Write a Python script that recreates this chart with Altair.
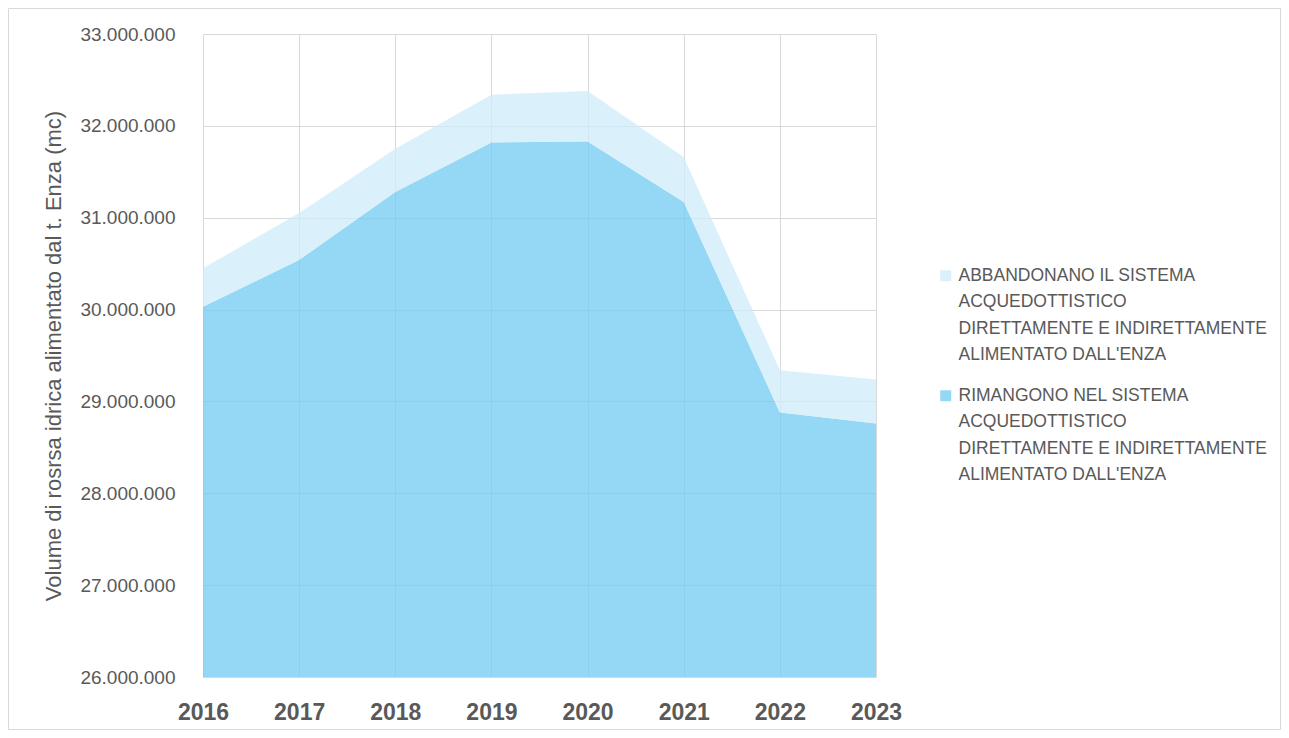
import altair as alt
import pandas as pd

years = ["2016", "2017", "2018", "2019", "2020", "2021", "2022", "2023"]
rimangono = [30030000, 30540000, 31280000, 31820000, 31830000, 31170000, 28880000, 28760000]
abbandonano = [420000, 510000, 470000, 520000, 550000, 490000, 460000, 480000]

lab_abb = "ABBANDONANO IL SISTEMA|ACQUEDOTTISTICO|DIRETTAMENTE E INDIRETTAMENTE|ALIMENTATO DALL'ENZA"
lab_rim = "RIMANGONO NEL SISTEMA|ACQUEDOTTISTICO|DIRETTAMENTE E INDIRETTAMENTE|ALIMENTATO DALL'ENZA"
series = [lab_abb, lab_rim]
colors = ["#CEECFA", "#70CBF2"]

rows = []
for i, y in enumerate(years):
    rows.append({"year": y, "serie": lab_rim, "value": rimangono[i], "ord": 0})
    rows.append({"year": y, "serie": lab_abb, "value": abbandonano[i], "ord": 1})
df = pd.DataFrame(rows)

W, H = 673, 643
PL, PT, PR, PB = 195, 26, 405, 53

area = alt.Chart(df).mark_area(clip=True, opacity=0.75).encode(
    x=alt.X("year:O", scale=alt.Scale(type="point", padding=0),
            axis=alt.Axis(title=None, labelAngle=0, grid=True, domain=False, ticks=False,
                          labelFont="Liberation Sans", labelFontSize=23, labelFontWeight="bold",
                          labelColor="#595959", labelPadding=24, gridColor="#d9d9d9")),
    y=alt.Y("value:Q", stack="zero",
            scale=alt.Scale(domain=[26000000, 33000000], nice=False, zero=False),
            axis=alt.Axis(title="Volume di rosrsa idrica alimentato dal t. Enza  (mc)",
                          values=[26000000, 27000000, 28000000, 29000000, 30000000, 31000000, 32000000, 33000000],
                          labelExpr="replace(format(datum.value, ',.0f'), regexp(',', 'g'), '.')",
                          domain=False, ticks=False, labelPadding=28,
                          labelFont="Liberation Sans", labelFontSize=19, labelColor="#595959",
                          titleFont="Liberation Sans", titleFontSize=22, titleFontWeight="normal",
                          titleColor="#595959", titlePadding=14, gridColor="#d9d9d9")),
    color=alt.Color("serie:N", scale=alt.Scale(domain=series, range=colors),
                    legend=alt.Legend(title=None, orient="none", legendX=734, legendY=233,
                                      symbolType="square", symbolSize=121, symbolOpacity=0.75,
                                      labelFont="Liberation Sans", labelFontSize=17.5,
                                      labelColor="#595959", labelLimit=500, rowPadding=22,
                                      labelBaseline="middle",
                                      labelExpr="split(datum.label, '|')")),
    order=alt.Order("ord:Q"),
)

frame = alt.Chart(pd.DataFrame({"a": [0]})).mark_rect(fillOpacity=0, stroke="#d9d9d9", strokeWidth=1).encode(
    x=alt.value(-PL + 0.5), x2=alt.value(W + PR - 0.5),
    y=alt.value(-PT + 0.5), y2=alt.value(H + PB - 0.5),
)

chart = alt.layer(area, frame).properties(
    width=W, height=H,
    autosize=alt.AutoSizeParams(type="none"),
    padding={"left": PL, "top": PT, "right": PR, "bottom": PB},
).configure(
    background="white",
    style={"guide-label": {"lineHeight": 26.5}},
).configure_view(stroke="#d9d9d9")

chart.save("out.html", embed_options={"renderer": "svg", "actions": False})
